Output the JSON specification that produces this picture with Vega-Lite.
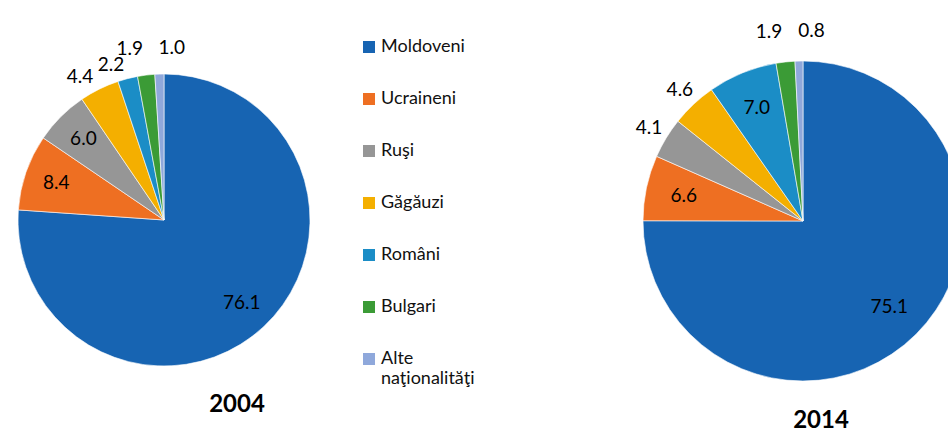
{
  "$schema": "https://vega.github.io/schema/vega-lite/v6.json",
  "width": 948,
  "height": 433,
  "autosize": "none",
  "padding": 0,
  "config": {"view": {"stroke": null}, "font": "Lato"},
  "data": {"values": [
    {"year": "2004", "nat": "Moldoveni", "idx": 1, "value": 76.1},
    {"year": "2004", "nat": "Ucraineni", "idx": 2, "value": 8.4},
    {"year": "2004", "nat": "Ruşi", "idx": 3, "value": 6.0},
    {"year": "2004", "nat": "Găgăuzi", "idx": 4, "value": 4.4},
    {"year": "2004", "nat": "Români", "idx": 5, "value": 2.2},
    {"year": "2004", "nat": "Bulgari", "idx": 6, "value": 1.9},
    {"year": "2004", "nat": "Alte naţionalităţi", "idx": 7, "value": 1.0},
    {"year": "2014", "nat": "Moldoveni", "idx": 1, "value": 75.1},
    {"year": "2014", "nat": "Ucraineni", "idx": 2, "value": 6.6},
    {"year": "2014", "nat": "Ruşi", "idx": 3, "value": 4.1},
    {"year": "2014", "nat": "Găgăuzi", "idx": 4, "value": 4.6},
    {"year": "2014", "nat": "Români", "idx": 5, "value": 7.0},
    {"year": "2014", "nat": "Bulgari", "idx": 6, "value": 1.9},
    {"year": "2014", "nat": "Alte naţionalităţi", "idx": 7, "value": 0.8}
  ]},
  "layer": [
    {
      "transform": [{"filter": "datum.year == '2004'"}],
      "encoding": {
        "theta": {"field": "value", "type": "quantitative", "stack": true},
        "order": {"field": "idx", "type": "quantitative"},
        "x": {"field": "year", "type": "nominal", "axis": null, "scale": {"type": "point", "padding": 0, "domain": ["2004", "2014"], "range": [164, 803]}},
        "y": {"field": "year", "type": "nominal", "axis": null, "scale": {"type": "point", "padding": 0, "domain": ["2004", "2014"], "range": [220, 221]}}
      },
      "layer": [
        {
          "mark": {"type": "arc", "radius": 146, "stroke": "#ffffff", "strokeWidth": 0.6},
          "encoding": {
            "color": {"field": "nat", "type": "nominal",
              "scale": {"domain": ["Moldoveni", "Ucraineni", "Ruşi", "Găgăuzi", "Români", "Bulgari", "Alte naţionalităţi"],
                        "range": ["#1764B2", "#EE6F22", "#969696", "#F4AF00", "#1B8DC6", "#3B9B36", "#8FA8DB"]},
              "legend": {"orient": "none", "legendX": 360, "legendY": 38, "title": null, "padding": 0,
                "symbolType": "square", "symbolSize": 144, "symbolStrokeWidth": 0, "rowPadding": 34,
                "labelFontSize": 18, "labelFont": "Lato", "labelColor": "#111111", "labelOffset": 3, "labelLimit": 200,
                "labelExpr": "datum.label == 'Alte naţionalităţi' ? ['Alte', 'naţionalităţi'] : datum.label"}
            }
          }
        },
        {
          "mark": {"type": "text", "radius": 114, "fontSize": 19, "color": "#000000"},
          "encoding": {"text": {"condition": {"test": "datum.value > 5", "field": "value", "format": ".1f"}, "value": ""}}
        },
        {
          "mark": {"type": "text", "radius": 160, "fontSize": 19, "color": "#000000", "align": "right"},
          "encoding": {"text": {"condition": {"test": "datum.idx == 4 || datum.idx == 5", "field": "value", "format": ".1f"}, "value": ""}}
        },
        {
          "mark": {"type": "text", "radius": 172, "fontSize": 19, "color": "#000000", "align": "right"},
          "encoding": {"text": {"condition": {"test": "datum.idx == 6", "field": "value", "format": ".1f"}, "value": ""}}
        },
        {
          "mark": {"type": "text", "radius": 172, "fontSize": 19, "color": "#000000", "align": "left"},
          "encoding": {"text": {"condition": {"test": "datum.idx == 7", "field": "value", "format": ".1f"}, "value": ""}}
        }
      ]
    },
    {
      "transform": [{"filter": "datum.year == '2014'"}],
      "encoding": {
        "theta": {"field": "value", "type": "quantitative", "stack": true},
        "order": {"field": "idx", "type": "quantitative"},
        "x": {"field": "year", "type": "nominal", "axis": null, "scale": {"type": "point", "padding": 0, "domain": ["2004", "2014"], "range": [164, 803]}},
        "y": {"field": "year", "type": "nominal", "axis": null, "scale": {"type": "point", "padding": 0, "domain": ["2004", "2014"], "range": [220, 221]}}
      },
      "layer": [
        {
          "mark": {"type": "arc", "radius": 160, "stroke": "#ffffff", "strokeWidth": 0.6},
          "encoding": {
            "color": {"field": "nat", "type": "nominal",
              "scale": {"domain": ["Moldoveni", "Ucraineni", "Ruşi", "Găgăuzi", "Români", "Bulgari", "Alte naţionalităţi"],
                        "range": ["#1764B2", "#EE6F22", "#969696", "#F4AF00", "#1B8DC6", "#3B9B36", "#8FA8DB"]}
            }
          }
        },
        {
          "mark": {"type": "text", "radius": 122, "fontSize": 19, "color": "#000000"},
          "encoding": {"text": {"condition": {"test": "datum.value > 5", "field": "value", "format": ".1f"}, "value": ""}}
        },
        {
          "mark": {"type": "text", "radius": 180, "fontSize": 19, "color": "#000000"},
          "encoding": {"text": {"condition": {"test": "datum.value <= 5 && datum.idx < 6", "field": "value", "format": ".1f"}, "value": ""}}
        },
        {
          "mark": {"type": "text", "radius": 190, "fontSize": 19, "color": "#000000", "align": "right"},
          "encoding": {"text": {"condition": {"test": "datum.idx == 6", "field": "value", "format": ".1f"}, "value": ""}}
        },
        {
          "mark": {"type": "text", "radius": 190, "fontSize": 19, "color": "#000000", "align": "left"},
          "encoding": {"text": {"condition": {"test": "datum.idx == 7", "field": "value", "format": ".1f"}, "value": ""}}
        }
      ]
    },
    {
      "data": {"values": [{"year": "2004"}, {"year": "2014"}]},
      "mark": {"type": "text", "fontSize": 24, "fontWeight": "bold", "color": "#000000", "baseline": "middle"},
      "encoding": {
        "x": {"field": "year", "type": "nominal", "axis": null, "scale": {"type": "point", "padding": 0, "domain": ["2004", "2014"], "range": [237, 821]}},
        "y": {"field": "year", "type": "nominal", "axis": null, "scale": {"type": "point", "padding": 0, "domain": ["2004", "2014"], "range": [405, 421]}},
        "text": {"field": "year"}
      }
    }
  ],
  "resolve": {"scale": {"theta": "independent", "x": "independent", "y": "independent"}}
}
